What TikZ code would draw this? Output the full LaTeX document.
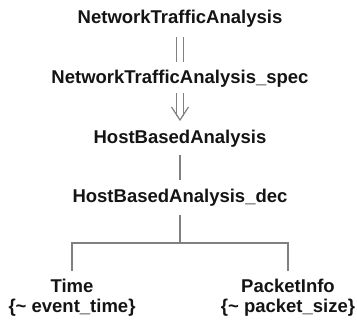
\documentclass[tikz,border=0pt]{standalone}
\usepackage{fontspec}
\setmainfont{Liberation Sans}
\begin{document}
\begin{tikzpicture}[x=1bp,y=-1bp,
  lbl/.style={inner sep=0pt, outer sep=0pt, text=black!92, align=center,
    font=\fontsize{18.5bp}{19.5bp}\selectfont\bfseries},
  onel/.style={lbl, text height=13.3bp, text depth=4bp},
  conn/.style={draw=black!50, line width=1.2bp},
  dbl/.style={conn, double=white, double distance=6bp}]
\path[use as bounding box, fill=white] (0,0) rectangle (357,324);
\node[onel] (t1) at (180,23) [anchor=base] {NetworkTrafficAnalysis};
\node[onel] (t2) at (180,83) [anchor=base] {NetworkTrafficAnalysis\_spec};
\node[onel] (t3) at (180,143) [anchor=base] {HostBasedAnalysis};
\node[onel] (t4) at (180,202) [anchor=base] {HostBasedAnalysis\_dec};
\node[lbl, anchor=north] (time) at (72,279.5) {Time\\\{\textasciitilde{} event\_time\}};
\node[lbl, anchor=north] (pkt) at (288,279.5) {PacketInfo\\\{\textasciitilde{} packet\_size\}};
% refinement (double line)
\draw[dbl] ([yshift=-10bp]t1.south) -- ([yshift=7.7bp]t2.north);
% double arrow
\coordinate (tip) at ([yshift=9.7bp]t3.north);
\draw[dbl] ([yshift=-6bp]t2.south) -- ([yshift=4bp]tip);
\draw[conn, line join=miter] ([shift={(-8.5bp,13bp)}]tip) -- (tip) -- ([shift={(8.5bp,13bp)}]tip);
% single line
\draw[conn] ([yshift=-8bp]t3.south) -- ([yshift=8.7bp]t4.north);
% fork
\draw[conn] ([yshift=-9bp]t4.south) -- ++(0,28) coordinate (fork);
\draw[conn] ([yshift=9bp]time.north) |- (fork) -| ([yshift=9bp]pkt.north);
\end{tikzpicture}
\end{document}
